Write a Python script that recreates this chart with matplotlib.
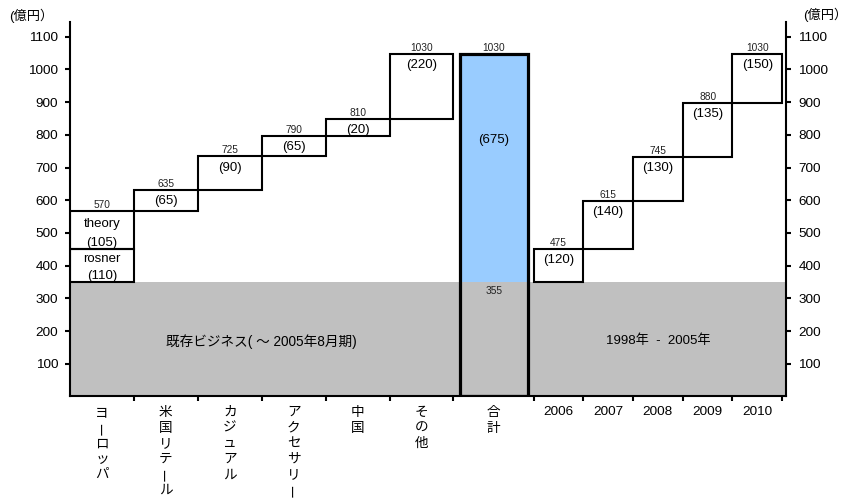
import numpy as np
import matplotlib
matplotlib.use("Agg")
import matplotlib.pyplot as plt

plt.rcParams['font.family'] = ['Liberation Sans', 'Noto Sans CJK JP', 'DejaVu Sans']

# 既存ビジネス 部分（カテゴリー別）
categories = ['ヨーロッパ', '米国リテール', 'カジュアル', 'アクセサリー', '中国', 'その他']
cat_bottoms = [350, 567, 632, 734, 797, 848]
cat_tops = [567, 632, 734, 797, 848, 1047]
cat_totals = [570, 635, 725, 790, 810, 1030]
cat_amounts = [None, 65, 90, 65, 20, 220]

# ヨーロッパの内訳
europe_parts = ['rosner', 'theory']
europe_edges = [350, 451, 567]
europe_amounts = [110, 105]

# 合計
total_name = '合計'
base_drawn = 350
base_label = 355
total_drawn = 1047
total_label = 1030
total_amount = 675

# 年別
years = ['2006', '2007', '2008', '2009', '2010']
year_bottoms = [350, 450, 598, 733, 898]
year_tops = [450, 598, 733, 898, 1047]
year_totals = [475, 615, 745, 880, 1030]
year_amounts = [120, 140, 130, 135, 150]

yticks = list(range(100, 1200, 100))

# レイアウト (カテゴリー幅 = 1)
CAT_W = 1.0
TOT_W = 1.252
YEAR_W = 0.778
X_MAX = 11.21

GRAY = '#c0c0c0'
BLUE = '#99ccff'

fig = plt.figure(figsize=(8.48, 4.99), dpi=100)
ax = fig.add_axes([70 / 848, (499 - 396.4) / 499, 716.5 / 848, (396.4 - 21.7) / 499])
ax.set_xlim(0, X_MAX)
ax.set_ylim(0, 1146)

cat_left = np.arange(len(categories)) * CAT_W
tot_left = len(categories) * CAT_W
year_left = tot_left + TOT_W + np.arange(len(years)) * YEAR_W

# 灰色の既存ビジネス帯
ax.bar(0, base_drawn, width=X_MAX, bottom=0, align='edge', color=GRAY, zorder=0)


def small(x, y, s):
    ax.annotate(s, xy=(x, y), xytext=(0, 0.8), textcoords='offset points',
                ha='center', va='bottom', fontsize=7.3, color='#222222')


def inner(x, y, s, dy=-8):
    ax.annotate(s, xy=(x, y), xytext=(0, dy), textcoords='offset points',
                ha='center', va='center', fontsize=9.5)


# カテゴリーの箱
heights = np.array(cat_tops) - np.array(cat_bottoms)
ax.bar(cat_left[1:], heights[1:], width=CAT_W, bottom=cat_bottoms[1:], align='edge',
       facecolor='none', edgecolor='black', linewidth=1.5, zorder=3)
for i in range(1, len(categories)):
    cx = cat_left[i] + CAT_W / 2
    small(cx, cat_tops[i], str(cat_totals[i]))
    inner(cx, cat_tops[i], '(%d)' % cat_amounts[i])

# ヨーロッパ (rosner, theory)
e_bot = europe_edges[:-1]
e_h = np.diff(europe_edges)
ax.bar([cat_left[0]] * 2, e_h, width=CAT_W, bottom=e_bot, align='edge',
       facecolor='none', edgecolor='black', linewidth=1.5, zorder=3)
ex = cat_left[0] + CAT_W / 2
name_dy = [-7.5, -9]
amt_dy = [-19.5, -23]
for j, name in enumerate(europe_parts):
    top = europe_edges[j + 1]
    inner(ex, top, name, dy=name_dy[j])
    inner(ex, top, '(%d)' % europe_amounts[j], dy=amt_dy[j])
small(ex, cat_tops[0], str(cat_totals[0]))

# 合計
tb_left = tot_left + 0.095
tb_w = 1.065
ax.bar(tb_left, total_drawn - base_drawn, width=tb_w, bottom=base_drawn, align='edge',
       color=BLUE, zorder=1)
ax.bar(tb_left, total_drawn, width=tb_w, bottom=0, align='edge',
       facecolor='none', edgecolor='black', linewidth=2.3, zorder=4)
tx = tb_left + tb_w / 2
small(tx, total_drawn, str(total_label))
inner(tx, total_drawn, '(%d)' % total_amount, dy=-62)
ax.annotate(str(base_label), xy=(tx, base_drawn), xytext=(0, -6.5), textcoords='offset points',
            ha='center', va='center', fontsize=7.3, color='#222222')

# 年別の箱
yh = np.array(year_tops) - np.array(year_bottoms)
ax.bar(year_left, yh, width=YEAR_W, bottom=year_bottoms, align='edge',
       facecolor='none', edgecolor='black', linewidth=1.5, zorder=3)
for i in range(len(years)):
    cx = year_left[i] + YEAR_W / 2
    small(cx, year_tops[i], str(year_totals[i]))
    inner(cx, year_tops[i], '(%d)' % year_amounts[i])

# 帯のラベル
ax.text(tot_left / 2, 169, '既存ビジネス( ～ 2005年8月期)', ha='center', va='center', fontsize=9.8)
ax.text((year_left[0] + year_left[-1] + YEAR_W) / 2, 169, '1998年  -  2005年',
        ha='center', va='center', fontsize=9.5)

# 軸
ax.spines['top'].set_visible(False)
for side in ['left', 'right', 'bottom']:
    ax.spines[side].set_linewidth(1.5)
    ax.spines[side].set_zorder(5)

ax.set_yticks(yticks)
ax.tick_params(axis='y', left=True, right=True, labelleft=True, labelright=True,
               direction='out', length=3.6, width=1.5, labelsize=9.7, pad=5)

boundaries = list(cat_left[1:]) + [tot_left] + list(year_left) + [year_left[-1] + YEAR_W]
ax.set_xticks(boundaries, minor=True)
ax.set_xticks(year_left + YEAR_W / 2)
ax.set_xticklabels(years)
ax.tick_params(axis='x', which='minor', direction='out', length=3.6, width=1.5)
ax.tick_params(axis='x', which='major', length=0, labelsize=9.7, pad=7)


# 縦書きのカテゴリー名
def vertical_label(x, text):
    for i, ch in enumerate(text):
        rot = 90 if ch == 'ー' else 0
        ax.annotate(ch, xy=(x, 0), xycoords=('data', 'axes fraction'),
                    xytext=(0, -(15.8 + 15.5 * i) * 0.72), textcoords='offset points',
                    ha='center', va='center', rotation=rot, fontsize=9.8,
                    annotation_clip=False)


for i, name in enumerate(categories):
    vertical_label(cat_left[i] + CAT_W / 2, name)
vertical_label(tot_left + TOT_W / 2, total_name)

fig.text(31 / 848, 1 - 16 / 499, '(億円）', ha='center', va='center', fontsize=9.5)
fig.text(825 / 848, 1 - 15 / 499, '(億円）', ha='center', va='center', fontsize=9.5)

fig.savefig('out.png', dpi=100)
